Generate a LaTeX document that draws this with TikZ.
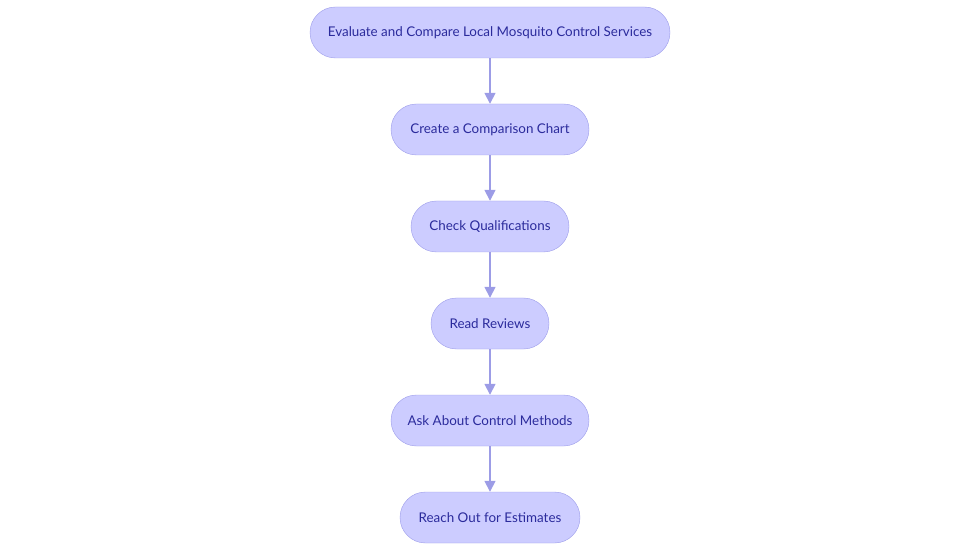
\documentclass[tikz,border=0pt]{standalone}
\usepackage{fontspec}
\setmainfont{Lato}
\usetikzlibrary{positioning,arrows.meta}
\definecolor{boxfill}{HTML}{CCCCFF}
\definecolor{boxline}{HTML}{9C9CEA}
\definecolor{boxtext}{HTML}{2B2B9C}
\definecolor{arrowcol}{HTML}{9C9CE6}
\begin{document}
\begin{tikzpicture}[x=1pt,y=-1pt,
    stepbox/.style={draw=boxline, fill=boxfill, text=boxtext, rounded corners=25.5pt,
        minimum height=51pt, inner sep=0pt, font=\fontsize{13.4}{15}\selectfont},
    flow/.style={draw=arrowcol, line width=1.6pt, -{Triangle[length=11pt,width=11pt]}},
    node distance=45.6pt]
    \useasboundingbox (0,0) rectangle (980,553);
    \node[stepbox, minimum width=360pt] (evaluate) at (490,32.5) {Evaluate and Compare Local Mosquito Control Services};
    \node[stepbox, minimum width=198pt, below=of evaluate] (chart) {Create a Comparison Chart};
    \node[stepbox, minimum width=158pt, below=of chart] (qualify) {Check Qualifications};
    \node[stepbox, minimum width=118pt, below=of qualify] (reviews) {Read Reviews};
    \node[stepbox, minimum width=198pt, below=of reviews] (methods) {Ask About Control Methods};
    \node[stepbox, minimum width=180pt, below=of methods] (estimates) {Reach Out for Estimates};
    \foreach \a/\b in {evaluate/chart, chart/qualify, qualify/reviews, reviews/methods, methods/estimates}
        \draw[flow] (\a) -- (\b);
\end{tikzpicture}
\end{document}
